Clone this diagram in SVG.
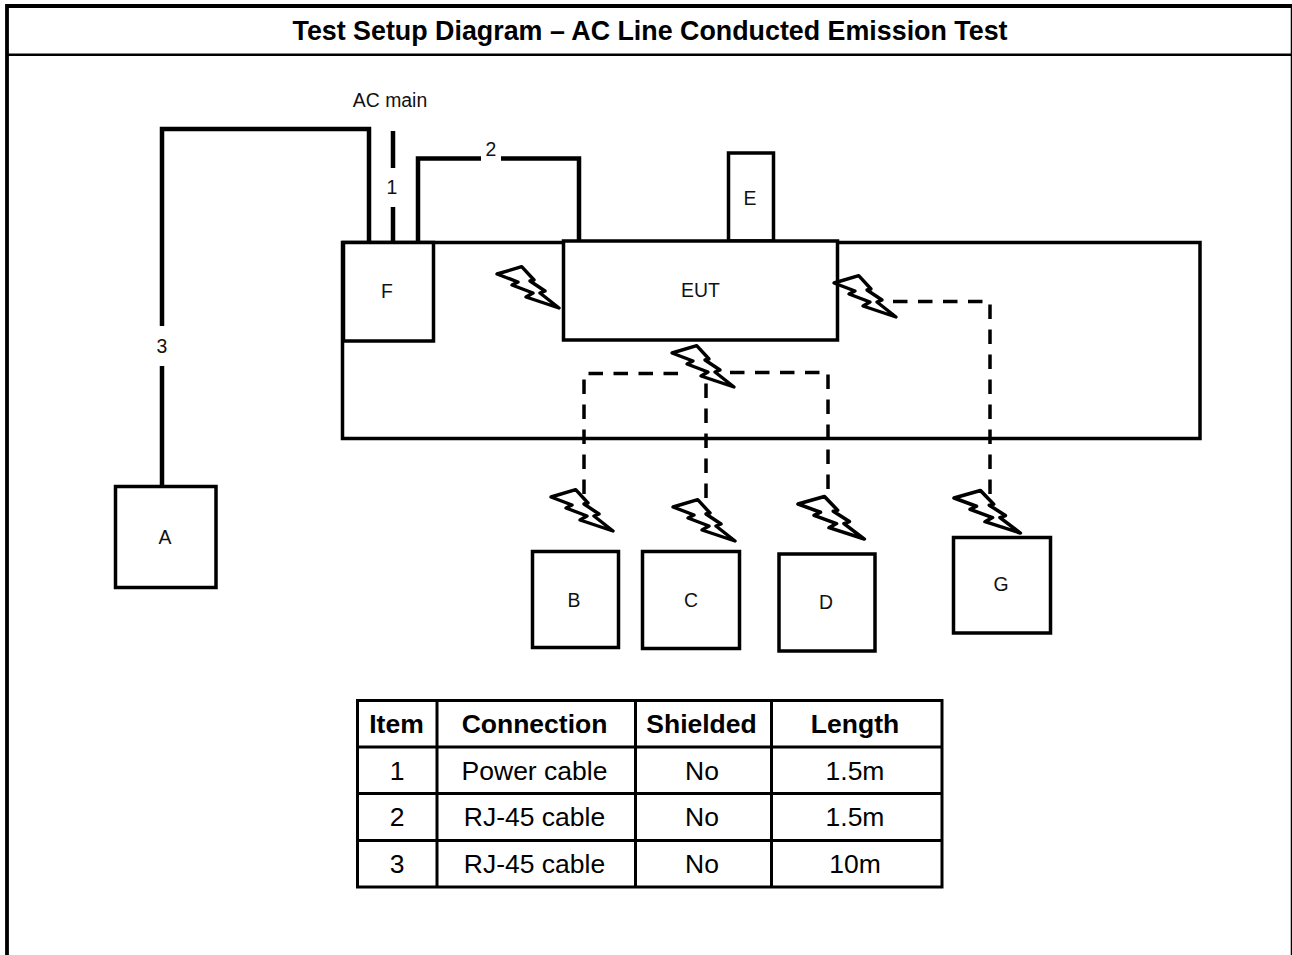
<svg xmlns="http://www.w3.org/2000/svg" width="1292" height="955" viewBox="0 0 1292 955">
<style>
text{font-family:"Liberation Sans",Arial,sans-serif;fill:#000}
.lb{font-size:19.400px;text-anchor:middle;fill:#111}
.th{font-size:26.500px;font-weight:bold;text-anchor:middle}
.td{font-size:26.500px;text-anchor:middle}
.box{fill:#fff;stroke:#000;stroke-width:3.5}
.wire{fill:none;stroke:#000;stroke-width:4.500}
.dash{fill:none;stroke:#000;stroke-width:3.500;stroke-dasharray:14.500 10.500}
.bolt{fill:#fff;stroke:#000;stroke-width:3.400;stroke-linejoin:round}
.tl{fill:none;stroke:#000;stroke-width:3}
</style>
<defs>
<polygon id="bolt" points="0,0 24.700,-7.300 37,6 33,7 48,17 43,19 62,34 29,23 36,19 15,11 21,8"/>
</defs>
<rect width="1292" height="955" fill="#fff"/>
<g id="frame">
<path d="M7 955V6H1292" fill="none" stroke="#000" stroke-width="3.800"/>
<path d="M7 54.800H1292" stroke="#000" stroke-width="2.400"/>
<path d="M1291.500 6V955" stroke="#000" stroke-width="1.500"/>
<text x="650" y="40" font-size="26.840" font-weight="bold" text-anchor="middle">Test Setup Diagram – AC Line Conducted Emission Test</text>
</g>
<g id="bench"><rect class="box" x="342.500" y="242.500" width="857.500" height="196" fill="none"/></g>
<g id="connectors">
<path class="wire" d="M162 326V129H369V242"/>
<path class="wire" d="M162 366V486"/>
<path class="wire" d="M393 131V168M393 207V242"/>
<path class="wire" d="M418 242V158.500H481M501 158.500H579V242"/>
<path class="dash" d="M584 494V373.500H680"/>
<path class="dash" d="M706 498V380"/>
<path class="dash" d="M730 372.500H828V490"/>
<path class="dash" d="M893 301.500H990V494"/>
</g>
<g id="node-E"><rect class="box" x="728.500" y="153" width="45" height="88"/><text class="lb" x="750" y="204.500">E</text></g>
<g id="node-F"><rect class="box" x="343.500" y="242.500" width="90" height="98.500"/><text class="lb" x="387" y="298">F</text></g>
<g id="node-EUT"><rect class="box" x="563.500" y="241" width="274" height="99"/><text class="lb" x="700.500" y="297">EUT</text></g>
<g id="node-A"><rect class="box" x="115.500" y="486.500" width="100.500" height="101"/><text class="lb" x="165" y="543.500">A</text></g>
<g id="node-B"><rect class="box" x="532.500" y="551.500" width="86" height="96"/><text class="lb" x="574" y="606.500">B</text></g>
<g id="node-C"><rect class="box" x="642.500" y="551.500" width="97" height="97"/><text class="lb" x="691" y="606.500">C</text></g>
<g id="node-D"><rect class="box" x="779" y="554" width="96" height="97"/><text class="lb" x="826" y="609">D</text></g>
<g id="node-G"><rect class="box" x="953.500" y="537.500" width="97" height="95.500"/><text class="lb" x="1001" y="591">G</text></g>
<g id="bolts">
<use href="#bolt" class="bolt" transform="translate(497,274)"/>
<use href="#bolt" class="bolt" transform="translate(672,353)"/>
<use href="#bolt" class="bolt" transform="translate(834,283)"/>
<use href="#bolt" class="bolt" transform="translate(551,497)"/>
<use href="#bolt" class="bolt" transform="translate(673,507)"/>
<use href="#bolt" class="bolt" transform="translate(798,504) scale(1.070,1.030)"/>
<use href="#bolt" class="bolt" transform="translate(954,498) scale(1.070,1.030)"/>
</g>
<g id="labels">
<text class="lb" x="390" y="107">AC main</text>
<text class="lb" x="392" y="193.500">1</text>
<text class="lb" x="491" y="156">2</text>
<text class="lb" x="162" y="353">3</text>
</g>
<g id="table">
<rect class="tl" x="357.500" y="700.500" width="584.500" height="186.500"/>
<path class="tl" d="M437 700V887M635.500 700V887M771.500 700V887M357 747H942M357 793.500H942M357 840.500H942"/>
<text class="th" x="396.500" y="733">Item</text><text class="th" x="534.500" y="733">Connection</text><text class="th" x="701.500" y="733">Shielded</text><text class="th" x="855" y="733">Length</text>
<text class="td" x="397" y="780">1</text><text class="td" x="534.500" y="780">Power cable</text><text class="td" x="702" y="780">No</text><text class="td" x="855" y="780">1.5m</text>
<text class="td" x="397" y="826">2</text><text class="td" x="534.500" y="826">RJ-45 cable</text><text class="td" x="702" y="826">No</text><text class="td" x="855" y="826">1.5m</text>
<text class="td" x="397" y="873">3</text><text class="td" x="534.500" y="873">RJ-45 cable</text><text class="td" x="702" y="873">No</text><text class="td" x="855" y="873">10m</text>
</g>
</svg>
